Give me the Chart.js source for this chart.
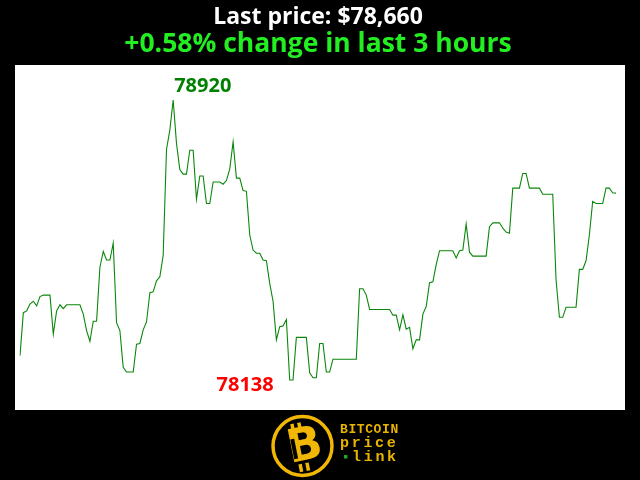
<!DOCTYPE html>
<html>
<head>
<meta charset="utf-8">
<script src="https://cdn.jsdelivr.net/npm/chart.js@4.4.1/dist/chart.umd.min.js"></script>
<style>
  html, body { margin: 0; padding: 0; background: #000; }
  #wrap { width: 640px; height: 480px; }
</style>
</head>
<body>
<div id="wrap"><canvas id="priceChart" width="640" height="480"></canvas></div>
<script>
// Bitcoin price, one value per minute over the last 3 hours
var prices = [
  78206, 78326, 78331, 78350, 78358, 78345, 78371, 78375, 78375, 78375,
  78266, 78331, 78348, 78337, 78348, 78348, 78348, 78348, 78348, 78322,
  78276, 78246, 78302, 78302, 78453, 78497, 78473, 78473, 78520, 78298,
  78276, 78173, 78160, 78160, 78160, 78238, 78240, 78278, 78300, 78382,
  78384, 78415, 78426, 78486, 78782, 78836, 78920, 78799, 78726, 78713,
  78713, 78780, 78780, 78643, 78708, 78708, 78631, 78631, 78691, 78691,
  78691, 78685, 78695, 78728, 78803, 78702, 78702, 78667, 78665, 78543,
  78501, 78492, 78492, 78473, 78471, 78408, 78358, 78250, 78287, 78289,
  78307, 78138, 78138, 78257, 78257, 78257, 78257, 78158, 78144, 78144,
  78240, 78240, 78160, 78160, 78196, 78196, 78196, 78196, 78196, 78196,
  78196, 78196, 78393, 78393, 78375, 78335, 78335, 78335, 78335, 78335,
  78335, 78335, 78319, 78319, 78278, 78320, 78280, 78285, 78225, 78250,
  78250, 78322, 78343, 78410, 78412, 78460, 78499, 78499, 78499, 78499,
  78499, 78479, 78499, 78501, 78574, 78495, 78484, 78484, 78484, 78484,
  78484, 78566, 78577, 78577, 78577, 78562, 78551, 78548, 78674, 78674,
  78674, 78715, 78715, 78674, 78674, 78674, 78674, 78657, 78657, 78657,
  78657, 78417, 78313, 78313, 78341, 78341, 78341, 78341, 78447, 78447,
  78471, 78543, 78637, 78631, 78631, 78631, 78674, 78674, 78661, 78660
];
var minutes = prices.map(function(p, i) { return i; });

var yMin = 78054;
var yMax = 79018;

var lastPrice = prices[prices.length - 1];
var changePct = (lastPrice - prices[0]) / prices[0] * 100;
var titleText = 'Last price: $' + lastPrice.toLocaleString('en-US');
var subText = (changePct >= 0 ? '+' : '') + changePct.toFixed(2) + '% change in last 3 hours';

var maxIdx = prices.indexOf(Math.max.apply(null, prices));
var minIdx = prices.indexOf(Math.min.apply(null, prices));

// white plot box, high / low labels and the logo
var decorPlugin = {
  id: 'decor',
  beforeDraw: function(chart) {
    var c = chart.ctx, a = chart.chartArea;
    c.save();
    c.fillStyle = '#000';
    c.fillRect(0, 0, chart.width, chart.height);
    c.fillStyle = '#fff';
    c.fillRect(a.left - 5, a.top, (a.right + 9) - (a.left - 5), a.bottom - a.top);
    c.restore();
  },
  afterDraw: function(chart) {
    var c = chart.ctx;
    var xs = chart.scales.x, ys = chart.scales.y;
    c.save();
    c.font = 'bold 20px "Open Sans"';
    c.textBaseline = 'alphabetic';
    // high
    c.fillStyle = '#008000';
    c.textAlign = 'left';
    c.fillText(String(prices[maxIdx]), xs.getPixelForValue(maxIdx) + 1, ys.getPixelForValue(prices[maxIdx]) - 8);
    // low
    c.fillStyle = '#ff0000';
    c.textAlign = 'right';
    c.fillText(String(prices[minIdx]), xs.getPixelForValue(minIdx) - 16, ys.getPixelForValue(prices[minIdx]) + 11);

    // logo ring
    var gold = '#f2b705';
    c.strokeStyle = gold;
    c.lineWidth = 3.5;
    c.beginPath();
    c.arc(302.5, 446, 29.5, 0, Math.PI * 2);
    c.stroke();
    // slanted B with bitcoin strokes
    c.save();
    c.translate(304, 447);
    c.rotate(-0.2);
    c.fillStyle = gold;
    c.fillRect(-9, -25, 3.5, 8);
    c.fillRect(-2, -25, 3.5, 8);
    c.fillRect(-9, 16, 3.5, 8);
    c.fillRect(-2, 16, 3.5, 8);
    c.font = 'bold 46px "DejaVu Sans"';
    c.textAlign = 'center';
    c.textBaseline = 'middle';
    c.fillText('B', 1, 1);
    c.fillStyle = '#000';
    c.fillRect(-12, -10, 4, 20);
    c.restore();

    // logo text, drawn char by char on a fixed pitch
    function spaced(txt, x, y, pitch, font) {
      c.font = font;
      c.textAlign = 'left';
      for (var i = 0; i < txt.length; i++) c.fillText(txt[i], x + i * pitch, y);
    }
    c.fillStyle = '#e8b400';
    c.textBaseline = 'alphabetic';
    spaced('BITCOIN', 340, 433, 8.4, 'bold 13px "Liberation Mono"');
    spaced('price', 340, 447, 11.7, 'bold 15px "Liberation Mono"');
    spaced('link', 352, 461, 11.7, 'bold 15px "Liberation Mono"');
    c.fillStyle = '#1faa1f';
    c.fillRect(344, 455, 3.5, 3.5);
    c.restore();
  }
};

var ctx = document.getElementById('priceChart').getContext('2d');
var priceChart = new Chart(ctx, {
  type: 'line',
  data: {
    labels: minutes,
    datasets: [{
      data: prices,
      borderColor: '#0a870a',
      borderWidth: 1.1,
      pointRadius: 0,
      tension: 0,
      fill: false
    }]
  },
  options: {
    responsive: false,
    animation: false,
    devicePixelRatio: 1,
    layout: { padding: { left: 20, right: 24, top: 0, bottom: 70 } },
    scales: {
      x: { display: false, offset: false },
      y: { display: false, min: yMin, max: yMax }
    },
    plugins: {
      legend: { display: false },
      tooltip: { enabled: false },
      title: {
        display: true,
        text: titleText,
        color: '#ffffff',
        font: { family: 'Open Sans', size: 23, weight: 'bold', lineHeight: 1 },
        padding: { top: 6, bottom: 0 }
      },
      subtitle: {
        display: true,
        text: subText,
        color: '#22ee22',
        font: { family: 'Open Sans', size: 26.5, weight: 'bold', lineHeight: 1 },
        padding: { top: 2, bottom: 7.5 }
      }
    }
  },
  plugins: [decorPlugin]
});
</script>
</body>
</html>
